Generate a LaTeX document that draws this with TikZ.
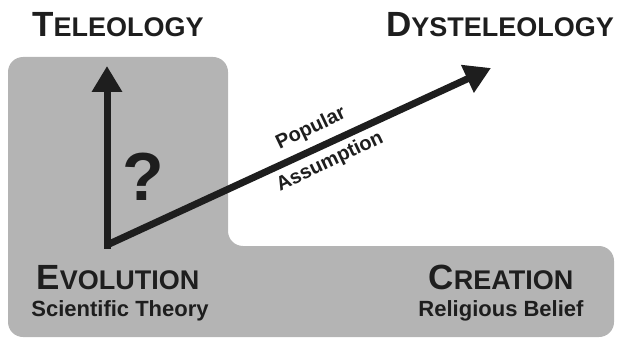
\documentclass[tikz,border=0pt]{standalone}
\usepackage{fontspec}
\setmainfont{Liberation Sans}
\usetikzlibrary{arrows.meta}

\definecolor{panel}{RGB}{180,180,180}
\definecolor{ink}{RGB}{30,30,30}
\newcommand{\capsize}[2]{{\fontsize{35}{35}\selectfont #1}{\fontsize{27}{27}\selectfont #2}}

\tikzset{
  title/.style={anchor=base, text=ink, font=\bfseries, inner sep=0pt},
  sub/.style={anchor=base, text=ink, font=\bfseries\fontsize{22}{22}\selectfont, inner sep=0pt},
  along/.style={text=ink, font=\bfseries\fontsize{20}{20}\selectfont, rotate=25.5, inner sep=0pt},
  bigarrow/.style={ink, line width=7pt, -{Triangle[length=26pt, width=29pt]}}
}

\begin{document}
\begin{tikzpicture}[x=1pt, y=-1pt]
    \useasboundingbox (0,0) rectangle (617,339);

    % Grey backdrop
    \fill[panel, rounded corners=15pt] (8,57) -- (228,57) -- (228,246) -- (614,246)
        -- (614,337) -- (8,337) -- cycle;

    % Corner and arrow tips
    \coordinate (origin) at (107,245);
    \coordinate (teletip) at (107,66);
    \coordinate (dystip) at (491,68);

    % Arrows
    \draw[bigarrow] (origin) -- (teletip);
    \draw[bigarrow] (origin) -- (dystip);
    \fill[ink] (103.5,241.5) rectangle (110.5,248.5);

    % Headings
    \node[title] (teleology) at (118,37) {\capsize{T}{ELEOLOGY}};
    \node[title] (dysteleology) at (500,37) {\capsize{D}{YSTELEOLOGY}};
    \node[title] (evolution) at (118,289) {\capsize{E}{VOLUTION}};
    \node[title] (creation) at (501,289) {\capsize{C}{REATION}};

    \node[sub] (scientific) at (120,316) {Scientific Theory};
    \node[sub] (religious) at (501,316) {Religious Belief};

    % Question mark
    \node[text=ink, font=\bfseries\fontsize{68}{68}\selectfont, inner sep=0pt] (query) at (143,177) {?};

    % Label on the diagonal
    \node[along] (popular) at (311,129) {Popular};
    \node[along] (assumption) at (330,162) {Assumption};
\end{tikzpicture}
\end{document}
